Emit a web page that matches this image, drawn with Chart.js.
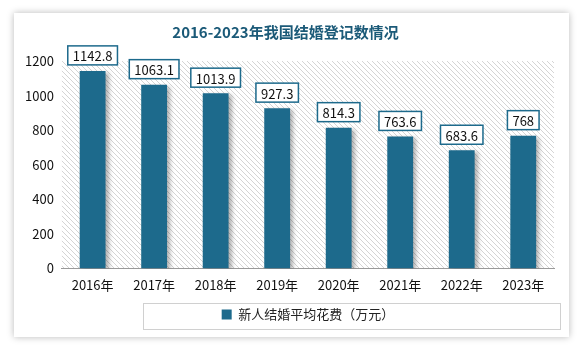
<!DOCTYPE html>
<html lang="zh-CN">
<head>
<meta charset="UTF-8">
<title>2016-2023年我国结婚登记数情况</title>
<script src="https://cdn.jsdelivr.net/npm/chart.js"></script>
<style>
    body {
        margin: 0;
        background: #ffffff;
        font-family: 'Noto Sans CJK SC', 'Noto Sans', sans-serif;
    }
    .card {
        position: absolute;
        left: 14px;
        top: 13px;
        width: 555px;
        height: 324px;
        background: #ffffff;
        box-shadow: 0 0 7px rgba(0, 0, 0, 0.28);
    }
</style>
</head>
<body>
<div class="card">
    <canvas id="grafico"></canvas>
</div>
<script>
    // 结婚登记数（万对）
    const anos = ['2016年', '2017年', '2018年', '2019年', '2020年', '2021年', '2022年', '2023年'];
    const valores = [1142.8, 1063.1, 1013.9, 927.3, 814.3, 763.6, 683.6, 768];
    const ticksY = [0, 200, 400, 600, 800, 1000, 1200];

    const corBarra = '#1d6a8c';
    const fonte = "'Noto Sans CJK SC', 'Noto Sans', sans-serif";

    // fundo listrado na área do gráfico
    const fundoListrado = {
        id: 'fundoListrado',
        beforeDraw(chart) {
            const { ctx, chartArea: a } = chart;
            const p = document.createElement('canvas');
            p.width = 5; p.height = 5;
            const pc = p.getContext('2d');
            pc.strokeStyle = '#d4d4d4';
            pc.lineWidth = 1;
            pc.beginPath();
            pc.moveTo(-1, -1); pc.lineTo(6, 6);
            pc.moveTo(-1, 4); pc.lineTo(1, 6);
            pc.moveTo(4, -1); pc.lineTo(6, 1);
            pc.stroke();
            ctx.save();
            ctx.fillStyle = ctx.createPattern(p, 'repeat');
            ctx.fillRect(a.left, a.top, a.right - a.left, a.bottom - a.top);
            ctx.restore();
        }
    };

    // sombra leve nas barras
    const sombraBarras = {
        id: 'sombraBarras',
        beforeDatasetsDraw(chart) {
            const ctx = chart.ctx;
            ctx.save();
            ctx.shadowColor = 'rgba(0,0,0,0.3)';
            ctx.shadowBlur = 4;
            ctx.shadowOffsetX = 3;
            ctx.shadowOffsetY = 2;
        },
        afterDatasetsDraw(chart) {
            chart.ctx.restore();
        }
    };

    // caixas com o valor acima de cada barra
    const rotulos = {
        id: 'rotulos',
        afterDatasetsDraw(chart) {
            const ctx = chart.ctx;
            const meta = chart.getDatasetMeta(0);
            ctx.save();
            ctx.font = '13px ' + fonte;
            ctx.textAlign = 'center';
            ctx.textBaseline = 'middle';
            meta.data.forEach((bar, i) => {
                const txt = String(valores[i]);
                const w = ctx.measureText(txt).width + 10;
                const h = 19;
                const x = bar.x - w / 2;
                const y = bar.y - 6 - h;
                ctx.fillStyle = '#ffffff';
                ctx.fillRect(x, y, w, h);
                ctx.strokeStyle = corBarra;
                ctx.lineWidth = 1.5;
                ctx.strokeRect(x, y, w, h);
                ctx.fillStyle = '#111111';
                ctx.fillText(txt, bar.x, y + h / 2 + 1);
            });
            ctx.restore();
        }
    };

    // moldura em volta da legenda
    const molduraLegenda = {
        id: 'molduraLegenda',
        afterDraw(chart) {
            const lg = chart.legend;
            const ctx = chart.ctx;
            ctx.save();
            ctx.strokeStyle = '#d0d0d0';
            ctx.lineWidth = 1;
            ctx.strokeRect(129.5, lg.top + 1.5, 417, lg.height - 3);
            ctx.restore();
        }
    };

    new Chart(document.getElementById('grafico'), {
        type: 'bar',
        data: {
            labels: anos,
            datasets: [{
                label: '新人结婚平均花费（万元）',
                data: valores,
                backgroundColor: corBarra,
                barPercentage: 0.42,
                categoryPercentage: 1
            }]
        },
        options: {
            responsive: true,
            maintainAspectRatio: false,
            animation: false,
            layout: {
                padding: { left: 3, right: 15, top: 0, bottom: 6 }
            },
            plugins: {
                title: {
                    display: true,
                    text: '2016-2023年我国结婚登记数情况',
                    color: '#1b5a78',
                    font: { family: fonte, size: 15, weight: 'bold' },
                    padding: { top: 10, bottom: 20 }
                },
                legend: {
                    position: 'bottom',
                    fullSize: false,
                    labels: {
                        color: '#222222',
                        font: { family: fonte, size: 13 },
                        boxWidth: 10,
                        boxHeight: 10,
                        padding: 6
                    }
                },
                tooltip: { enabled: false }
            },
            scales: {
                x: {
                    grid: { display: false, drawTicks: false },
                    border: { display: true, color: '#9a9a9a' },
                    ticks: {
                        color: '#111111',
                        padding: 9,
                        font: { family: fonte, size: 13 }
                    }
                },
                y: {
                    min: 0,
                    max: 1200,
                    afterBuildTicks(axis) {
                        axis.ticks = ticksY.map(v => ({ value: v }));
                    },
                    grid: { display: false, drawTicks: false },
                    border: { display: false },
                    ticks: {
                        color: '#111111',
                        padding: 8,
                        font: { family: fonte, size: 13 },
                        callback: v => String(v)
                    }
                }
            }
        },
        plugins: [fundoListrado, sombraBarras, rotulos, molduraLegenda]
    });
</script>
</body>
</html>
